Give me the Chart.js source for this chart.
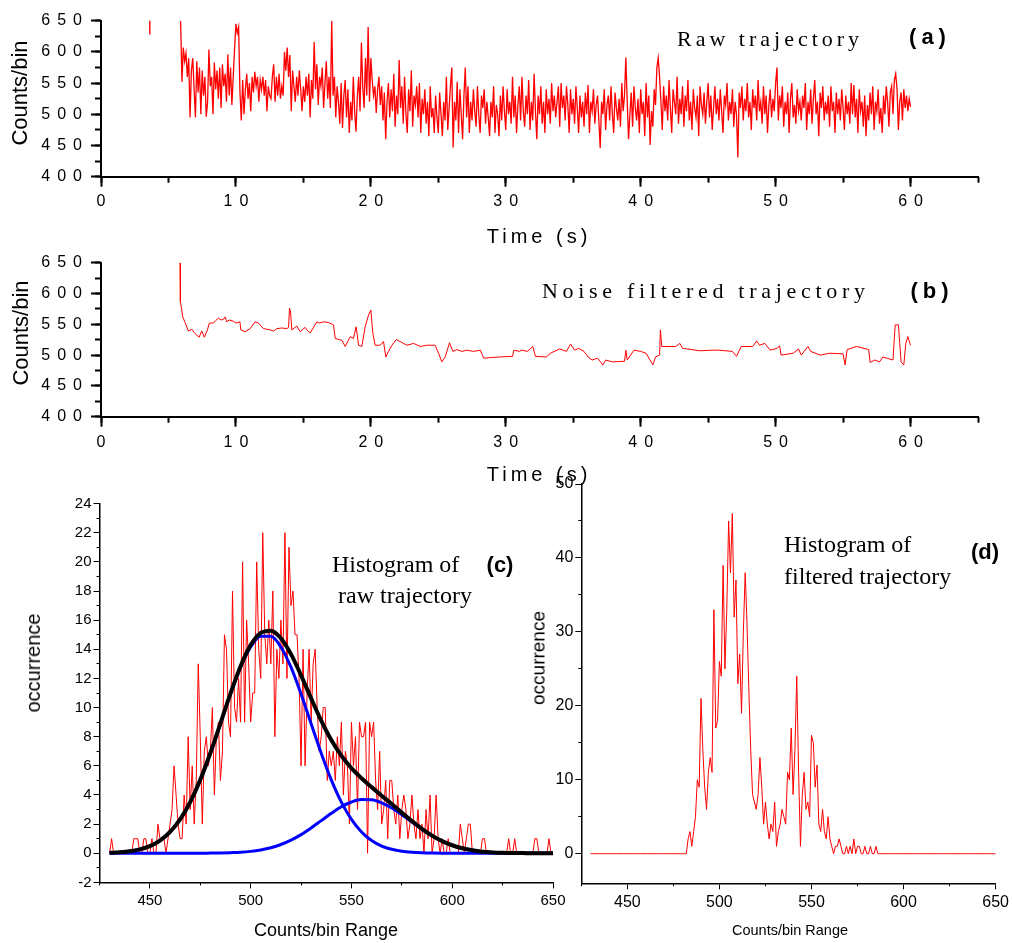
<!DOCTYPE html>
<html><head><meta charset="utf-8">
<script src="https://cdn.jsdelivr.net/npm/chart.js@4.4.1/dist/chart.umd.min.js"></script>
<style>
html,body{margin:0;padding:0;background:#fff;width:1013px;height:943px;overflow:hidden;}
canvas{position:absolute;left:0;top:0;}
.t{position:absolute;white-space:nowrap;color:#000;line-height:1;z-index:5;}
.sans{font-family:"Liberation Sans",Arial,sans-serif;}
.serif{font-family:"Liberation Serif","Times New Roman",serif;}
.c{transform:translate(-50%,-50%);}
.l{transform:translateY(-50%);}
.r{transform:translate(-50%,-50%) rotate(-90deg);}
</style></head><body>
<canvas id="ca" width="1013" height="943"></canvas>
<canvas id="cb" width="1013" height="943"></canvas>
<canvas id="cc" width="1013" height="943"></canvas>
<canvas id="cd" width="1013" height="943"></canvas>

<div class="t sans r" style="left:20px;top:93px;font-size:22px;">Counts/bin</div>
<div class="t sans c" style="left:539px;top:236px;font-size:20px;letter-spacing:4px;">Time (s)</div>
<div class="t serif l" style="left:677px;top:39px;font-size:22px;letter-spacing:4px;">Raw trajectory</div>
<div class="t sans c" style="left:930px;top:37px;font-size:22px;font-weight:bold;letter-spacing:5px;">(a)</div>

<div class="t sans r" style="left:21px;top:333px;font-size:22px;">Counts/bin</div>
<div class="t sans c" style="left:539px;top:474px;font-size:20px;letter-spacing:4px;">Time (s)</div>
<div class="t serif l" style="left:542px;top:291px;font-size:22px;letter-spacing:4.7px;">Noise filtered trajectory</div>
<div class="t sans c" style="left:932px;top:291px;font-size:22px;font-weight:bold;letter-spacing:5px;">(b)</div>

<div class="t sans r" style="left:33px;top:663px;font-size:20px;">occurrence</div>
<div class="t sans c" style="left:326px;top:930px;font-size:18px;">Counts/bin Range</div>
<div class="t serif l" style="left:332px;top:564px;font-size:24px;">Histogram of</div>
<div class="t serif l" style="left:338px;top:595px;font-size:24px;">raw trajectory</div>
<div class="t sans c" style="left:500px;top:565px;font-size:22px;font-weight:bold;">(c)</div>

<div class="t sans r" style="left:538px;top:658px;font-size:19px;">occurrence</div>
<div class="t sans c" style="left:790px;top:930px;font-size:14.5px;">Counts/bin Range</div>
<div class="t serif l" style="left:784px;top:544px;font-size:24px;">Histogram of</div>
<div class="t serif l" style="left:784px;top:576px;font-size:24px;">filtered trajectory</div>
<div class="t sans c" style="left:985px;top:552px;font-size:22px;font-weight:bold;">(d)</div>

<script>
// ---------- data ----------
const aTimeStart = 5.9;
const aTimeStep = 0.1;
const aCounts = [
650,552,607,585,598,560,590,495,570,590,
540,495,585,535,575,500,570,530,560,496,
520,604,545,560,500,583,540,570,525,575,
510,580,545,565,520,596,530,575,515,560,
605,645,630,640,535,490,555,500,540,565,
525,550,505,560,535,568,545,560,520,555,
540,560,530,555,505,545,530,525,560,580,
520,560,530,565,525,545,530,600,570,607,
560,595,505,570,545,520,560,530,570,540,
505,545,520,560,530,565,495,555,525,616,
540,580,515,560,545,575,510,550,585,525,
560,510,650,530,560,495,545,520,485,550,
478,530,555,495,540,470,520,490,560,505,
472,530,560,505,615,545,510,590,530,640,
520,590,555,530,545,502,540,560,515,545,
490,535,460,520,550,495,540,505,565,480,
530,500,587,510,545,485,560,500,470,540,
505,570,480,530,515,545,495,550,470,525,
500,540,485,520,465,545,495,510,470,530,
495,470,535,500,465,520,490,560,475,510,
545,575,447,520,490,552,470,540,500,460,
530,575,495,545,470,520,490,540,505,480,
545,500,470,530,510,540,485,520,495,465,
520,495,545,470,515,500,465,530,490,545,
505,475,540,500,520,485,560,495,530,470,
515,545,490,560,505,480,530,500,555,475,
520,490,565,505,460,530,500,545,485,520,
470,540,500,525,485,550,505,530,495,520,
545,480,550,510,530,490,545,515,470,540,
500,525,485,545,510,470,530,495,520,480,
535,500,547,470,520,505,540,485,515,530,
490,446,520,500,540,475,515,530,490,545,
500,470,535,510,490,525,480,550,505,530,
591,520,460,500,535,480,545,510,490,525,
470,540,500,520,465,550,495,530,451,505,
480,540,515,575,590,560,520,475,545,505,
530,490,555,510,470,540,520,500,560,485,
525,500,545,480,530,505,555,490,520,475,
540,510,495,530,465,545,515,500,535,485,
520,550,495,530,475,510,545,500,525,490,
540,505,470,530,515,550,490,520,500,540,
480,520,500,431,535,510,545,490,525,505,
550,495,520,475,540,510,530,490,555,505,
520,485,545,500,530,470,515,540,495,525,
505,550,575,490,530,510,545,480,520,500,
535,470,525,550,495,515,485,540,505,520,
490,530,510,550,475,520,500,540,485,525,
555,500,520,465,535,510,545,490,520,500,
530,480,545,505,520,470,535,500,525,490,
540,510,475,530,500,520,485,550,500,547,
495,525,470,540,505,520,480,530,465,515,
490,535,500,545,475,520,505,540,485,510,
470,530,500,545,520,480,535,545,500,555,
565,540,475,520,535,490,540,510,530,505,
525,512
];
const aBlip = [[3.62,628],[3.62,662]];

const bPoints = [
[5.86,650],[5.87,600],[5.9,587],[6.06,562],[6.23,553],[6.48,539],[6.72,542],[6.97,535],[7.27,529],[7.47,539],
[7.66,529],[7.89,541],[8.03,552],[8.33,552],[8.5,556],[8.7,560],[8.9,557],[9.07,558],[9.2,562],[9.32,554],
[9.5,557],[9.81,555],[10.0,552],[10.3,554],[10.36,541],[10.68,538],[11.05,543],[11.42,554],[11.67,552],[12.04,543],
[12.3,542],[12.53,541],[12.8,539],[13.03,543],[13.4,544],[13.77,543],[13.9,545],[13.97,576],[14.05,570],[14.14,541],
[14.51,547],[14.76,538],[15.13,545],[15.3,540],[15.5,536],[16.0,554],[16.2,552],[16.49,554],[16.86,553],[17.23,549],
[17.36,527],[17.85,524],[18.1,514],[18.47,530],[18.71,527],[18.91,546],[19.09,516],[19.33,514],[19.58,546],[19.83,565],
[20.0,573],[20.15,535],[20.32,516],[20.69,516],[20.94,522],[21.11,497],[21.31,506],[21.56,516],[21.88,525],[22.18,522],
[22.67,516],[23.17,519],[23.66,514],[24.15,516],[24.77,516],[25.02,503],[25.26,489],[25.51,497],[25.83,520],[26.08,506],
[26.38,509],[26.75,506],[27.12,508],[27.62,506],[28.11,508],[28.36,495],[28.86,496],[29.6,497],[30.5,498],[30.6,508],
[31.0,506],[31.2,508],[31.6,506],[32.0,514],[32.2,498],[33.0,497],[33.3,503],[34.0,510],[34.5,506],[34.8,518],
[35.1,508],[35.4,511],[35.8,506],[36.1,497],[36.4,492],[36.8,495],[37.2,484],[37.4,492],[37.9,489],[38.8,490],
[38.9,508],[39.0,492],[39.5,508],[40.0,506],[40.4,503],[40.9,484],[41.1,497],[41.4,500],[41.46,541],[41.56,514],
[42.1,514],[42.6,514],[42.9,519],[43.1,511],[44.4,507],[45.3,508],[45.8,508],[46.8,506],[47.1,498],[47.45,514],
[48.3,514],[48.6,523],[48.8,516],[49.2,519],[49.6,508],[50.1,511],[50.3,515],[50.4,500],[51.3,503],[51.7,510],
[51.9,500],[52.4,514],[52.6,506],[53.3,500],[54.0,503],[55.0,502],[55.15,484],[55.3,509],[56.0,514],[56.9,509],
[57.0,488],[57.35,492],[57.7,489],[57.95,497],[58.4,494],[58.7,492],[58.86,549],[59.1,549],[59.2,519],[59.3,489],
[59.5,484],[59.65,519],[59.8,530],[60.0,516]
];

const timeMajor = [0,10,20,30,40,50,60];
const timeMinor = [0,5,10,15,20,25,30,35,40,45,50,55,60,65];
const countMajor = [400,450,500,550,600,650];
const countMinor = [400,425,450,475,500,525,550,575,600,625,650];

const histStart = 430;
const cRaw = [
0,1,0,0,0,0,0,0,0,0,
0,0,1,1,1,0,0,1,1,0,
0,1,0,0,2,1,1,1,0,1,
2,3,6,4,2,1,1,4,2,8,
3,6,2,5,13,8,2,7,8,6,
7,10,4,8,9,5,7,15,14,9,
8,18,10,9,12,9,20,9,16,13,
9,11,11,20,14,12,22,15,13,16,
13,18,8,14,12,16,13,22,12,21,
17,18,15,15,12,6,14,6,11,14,
9,13,14,10,7,8,10,10,5,7,
6,7,5,8,6,9,4,7,6,2,
9,6,8,3,9,8,8,9,0,9,
8,9,5,3,7,2,3,5,1,5,
5,3,2,4,1,3,4,3,1,2,
4,2,1,3,1,2,0,3,1,4,
0,1,4,1,0,1,0,0,1,0,
0,0,0,0,2,1,0,1,2,2,
0,0,0,0,0,1,1,0,0,0,
0,0,0,0,0,0,0,0,1,0,
0,1,0,0,0,0,0,0,0,0,
0,1,1,0,0,0,0,0,1,0,
0
];
const fitX = [430,435,440,445,450,455,460,465,470,475,480,485,490,495,500,505,510,515,520,525,530,535,540,545,550,555,560,565,570,575,580,585,590,595,600,605,610,615,620,625,630,635,640,645,650];
const fitTotal = [0.03,0.07,0.14,0.27,0.49,0.87,1.46,2.32,3.51,5.04,6.88,8.91,10.97,12.84,14.29,15.13,15.28,14.76,13.67,12.21,10.63,9.11,7.78,6.70,5.84,5.15,4.54,3.95,3.38,2.79,2.21,1.68,1.21,0.83,0.55,0.34,0.20,0.11,0.06,0.03,0.02,0.01,0,0,0];
const fitPeak1 = [0.03,0.07,0.14,0.27,0.49,0.87,1.46,2.32,3.51,5.04,6.87,8.89,10.93,12.77,14.16,14.90,14.90,14.16,12.77,10.93,8.89,6.87,5.04,3.51,2.32,1.46,0.87,0.49,0.27,0.14,0.07,0.03,0.01,0,0,0,0,0,0,0,0,0,0,0,0];
const fitPeak2 = [0,0,0,0,0,0,0,0,0,0,0.01,0.02,0.04,0.07,0.13,0.23,0.38,0.60,0.90,1.28,1.74,2.24,2.74,3.19,3.52,3.69,3.67,3.46,3.11,2.65,2.14,1.65,1.20,0.83,0.55,0.34,0.20,0.11,0.06,0.03,0.02,0.01,0,0,0];

const dFiltered = [
0,0,0,0,0,0,0,0,0,0,
0,0,0,0,0,0,0,0,0,0,
0,0,0,0,0,0,0,0,0,0,
0,0,0,0,0,0,0,0,0,0,
0,0,0,0,0,0,0,0,0,0,
0,0,0,2,3,1,3,5,10,9,
21,14,9,6,11,13,11,33,17,18,
26,24,39,25,33,45,38,46,32,37,
23,27,19,30,38,31,22,14,8,7,
6,8,13,9,4,7,4,2,4,3,
7,1,3,4,6,5,4,11,10,17,
8,14,24,11,1,8,11,6,7,5,
16,15,9,12,4,3,6,3,2,5,
2,1,0,1,1,2,1,0,0,1,
0,1,0,2,0,1,1,0,0,1,
0,0,1,0,0,1,0,0,0,0,
0,0,0,0,0,0,0,0,0,0,
0,0,0,0,0,0,0,0,0,0,
0,0,0,0,0,0,0,0,0,0,
0,0,0,0,0,0,0,0,0,0,
0,0,0,0,0,0,0,0,0,0,
0,0,0,0,0,0,0,0,0,0,
0
];

const occCMajor = [-2,0,2,4,6,8,10,12,14,16,18,20,22,24];
const occCMinor = [-1,1,3,5,7,9,11,13,15,17,19,21,23];
const rangeMajor = [450,500,550,600,650];
const rangeMinor = [425,475,525,575,625];
const occDMajor = [0,10,20,30,40,50];
const occDMinor = [5,15,25,35,45];

// ---------- helpers ----------
const SANS = '"Liberation Sans", Arial, sans-serif';
function ticksFrom(arr){ return arr.map(v => ({value: v})); }
function seq(start, vals){ return vals.map((v,i)=>({x: start + i, y: v})); }
function pairs(xs, ys){ return xs.map((x,i)=>({x: x, y: ys[i]})); }

function buildPanel(o){
  const sp = o.spacing || 0;
  const lsPlugin = {
    id: 'letterSpacingTicks',
    beforeDraw(ch){ ch.ctx.letterSpacing = sp + 'px'; },
    afterDraw(ch){ ch.ctx.letterSpacing = '0px'; }
  };
  const grid = (len) => ({display:true, drawOnChartArea:false, drawTicks:true, tickLength:len, tickWidth:o.tickW, tickColor:'#000'});
  return new Chart(document.getElementById(o.id), {
    type: 'line',
    data: { datasets: o.datasets },
    options: {
      responsive: false, animation: false, devicePixelRatio: 1,
      layout: { padding: { left: o.pad[0], right: o.pad[1], top: o.pad[2], bottom: o.pad[3] } },
      plugins: { legend: {display:false}, tooltip: {enabled:false} },
      elements: { point: { radius: 0 } },
      scales: {
        x: { type:'linear', axis:'x', position:'bottom', weight:1, min:o.xMin, max:o.xMax,
             afterBuildTicks: s => { s.ticks = ticksFrom(o.xMajor); },
             afterFit: s => { s.height = o.xH; },
             grid: grid(o.majorLen),
             border: { display:true, color:'#000', width:o.borderW },
             ticks: { color:'#000', font:{family:SANS, size:o.xFont}, padding:o.xPad, maxRotation:0, autoSkip:false,
                      labelOffset: sp/2, callback: v => String(v) } },
        xm: { type:'linear', axis:'x', position:'bottom', weight:0, min:o.xMin, max:o.xMax,
             afterBuildTicks: s => { s.ticks = ticksFrom(o.xMinor); },
             afterFit: s => { s.height = 0; },
             grid: grid(o.minorLen),
             border: { display:false },
             ticks: { display:false } },
        y: { type:'linear', axis:'y', position:'left', weight:1, min:o.yMin, max:o.yMax,
             afterBuildTicks: s => { s.ticks = ticksFrom(o.yMajor); },
             afterFit: s => { s.width = o.yW; },
             grid: grid(o.majorLen),
             border: { display:true, color:'#000', width:o.borderW },
             ticks: { color:'#000', font:{family:SANS, size:o.yFont}, padding:o.yPad, autoSkip:false,
                      callback: v => String(v) } },
        ym: { type:'linear', axis:'y', position:'left', weight:0, min:o.yMin, max:o.yMax,
             afterBuildTicks: s => { s.ticks = ticksFrom(o.yMinor); },
             afterFit: s => { s.width = 0; },
             grid: grid(o.minorLen),
             border: { display:false },
             ticks: { display:false } }
      }
    },
    plugins: [lsPlugin]
  });
}

function lineDs(data, color, width, extra){
  return Object.assign({ data: data, borderColor: color, backgroundColor: color, borderWidth: width,
    pointRadius: 0, fill: false, tension: 0, xAxisID: 'x', yAxisID: 'y' }, extra || {});
}

// ---------- panel (a) ----------
const aData = aCounts.map((v,i)=>({x: +(aTimeStart + i*aTimeStep).toFixed(2), y: v}));
buildPanel({
  id:'ca', pad:[41, 35, 20.7, 726.3], yW:60, xH:40,
  xMin:0, xMax:65, yMin:400, yMax:650,
  xMajor:timeMajor, xMinor:timeMinor, yMajor:countMajor, yMinor:countMinor,
  majorLen:10, minorLen:6, tickW:2, borderW:2, xFont:16, yFont:16, xPad:5, yPad:2, spacing:7,
  datasets:[
    lineDs(aData, '#ff0000', 1.3),
    lineDs(aBlip.map(p=>({x:p[0], y:p[1]})), '#ff0000', 1.4)
  ]
});

// ---------- panel (b) ----------
buildPanel({
  id:'cb', pad:[41, 35, 262.7, 486.3], yW:60, xH:40,
  xMin:0, xMax:65, yMin:400, yMax:650,
  xMajor:timeMajor, xMinor:timeMinor, yMajor:countMajor, yMinor:countMinor,
  majorLen:10, minorLen:6, tickW:2, borderW:2, xFont:16, yFont:16, xPad:6, yPad:2, spacing:7,
  datasets:[ lineDs(bPoints.map(p=>({x:p[0], y:p[1]})), '#ff0000', 1) ]
});

// ---------- panel (c) ----------
buildPanel({
  id:'cc', pad:[49.5, 460, 503.6, 30.6], yW:50, xH:30,
  xMin:425, xMax:650, yMin:-2, yMax:24,
  xMajor:rangeMajor, xMinor:rangeMinor, yMajor:occCMajor, yMinor:occCMinor,
  majorLen:6, minorLen:3, tickW:1, borderW:1.5, xFont:15, yFont:15, xPad:3, yPad:2, spacing:0,
  datasets:[
    lineDs(pairs(fitX, fitTotal), '#000000', 4, {cubicInterpolationMode:'monotone'}),
    lineDs(pairs(fitX, fitPeak1), '#0000ff', 3, {cubicInterpolationMode:'monotone'}),
    lineDs(pairs(fitX, fitPeak2), '#0000ff', 3, {cubicInterpolationMode:'monotone'}),
    lineDs(seq(histStart, cRaw), '#ff0000', 1)
  ]
});

// ---------- panel (d) ----------
buildPanel({
  id:'cd', pad:[541.3, 14.3, 484, 29.7], yW:40, xH:30,
  xMin:425, xMax:650, yMin:-4, yMax:50,
  xMajor:rangeMajor, xMinor:rangeMinor, yMajor:occDMajor, yMinor:occDMinor,
  majorLen:6, minorLen:3, tickW:1, borderW:1.5, xFont:16, yFont:16, xPad:4, yPad:2, spacing:0,
  datasets:[ lineDs(seq(histStart, dFiltered), '#ff0000', 1) ]
});
</script>
</body></html>
